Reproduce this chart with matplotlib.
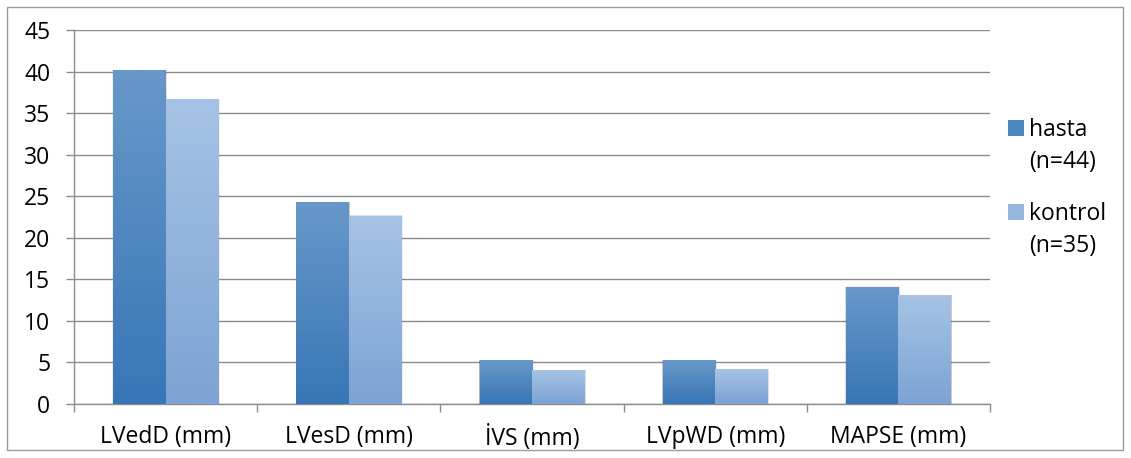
import numpy as np
import matplotlib
matplotlib.use("Agg")
import matplotlib.pyplot as plt
from matplotlib.patches import Rectangle
from matplotlib.colors import LinearSegmentedColormap

categories = ["LVedD (mm)", "LVesD (mm)", "İVS (mm)", "LVpWD (mm)", "MAPSE (mm)"]
hasta = [40.1, 24.2, 5.2, 5.2, 14.0]
kontrol = [36.6, 22.6, 4.0, 4.1, 13.0]
series_names = ["hasta", "kontrol"]
series_n = ["(n=44)", "(n=35)"]
yticks = list(range(0, 50, 5))

plt.rcParams["font.family"] = ["Open Sans", "DejaVu Sans"]
FS = 16.5

fig = plt.figure(figsize=(11.31, 4.58), dpi=100)
ax = fig.add_axes([74 / 1131, 54 / 458, (990 - 74) / 1131, (404 - 30) / 458])

grad_hasta = LinearSegmentedColormap.from_list("h", ["#3776b6", "#6898c9"])
grad_kontrol = LinearSegmentedColormap.from_list("k", ["#7ca3d4", "#a6c3e5"])

w = 1 / 3.5
x = np.arange(len(categories))
ramp = np.linspace(0, 1, 256).reshape(-1, 1)


def gradient_bar(x0, height, cmap):
    # soft drop shadow
    for k, a in [(4, 0.05), (3, 0.07), (2, 0.09), (1, 0.12)]:
        ax.add_patch(Rectangle((x0 - k * 0.0012, 0), w + k * 0.0034, height + k * 0.035,
                               facecolor="#000000", alpha=a, edgecolor="none", zorder=2))
    ax.imshow(ramp, cmap=cmap, origin="lower", aspect="auto",
              extent=(x0, x0 + w, 0, height), zorder=3, interpolation="bilinear")


for i in range(len(categories)):
    gradient_bar(x[i] - w, hasta[i], grad_hasta)
    gradient_bar(x[i], kontrol[i], grad_kontrol)

ax.set_xlim(-0.5, len(categories) - 0.5)
ax.set_ylim(0, 45)
ax.set_yticks(yticks)
ax.grid(axis="y", color="#8c8c8c", linewidth=1)
ax.set_axisbelow(True)

ax.set_xticks(np.arange(-0.5, len(categories)), labels=[])
ax.set_xticks(x, labels=categories, minor=True)
ax.tick_params(axis="x", which="major", length=6, color="#8c8c8c", width=1, direction="out")
ax.tick_params(axis="x", which="minor", length=0, pad=15, labelsize=FS)
ax.tick_params(axis="y", length=6, color="#8c8c8c", width=1, pad=11, labelsize=FS)

for s in ["top", "right"]:
    ax.spines[s].set_visible(False)
for s in ["left", "bottom"]:
    ax.spines[s].set_color("#8c8c8c")
    ax.spines[s].set_linewidth(1)

# legend drawn in figure pixels
colors = ["#4a85c0", "#94b6df"]
for j, (name, n, c) in enumerate(zip(series_names, series_n, colors)):
    yc = 129 + j * 84
    fig.patches.append(Rectangle((1008 / 1131, 1 - (yc + 7) / 458), 16 / 1131, 16 / 458,
                                 transform=fig.transFigure, facecolor=c, edgecolor="none"))
    fig.text(1029 / 1131, 1 - (yc + 7) / 458, name, fontsize=FS, va="baseline", ha="left")
    fig.text(1029 / 1131, 1 - (yc + 39) / 458, n, fontsize=FS, va="baseline", ha="left")

# outer frame
fig.patches.append(Rectangle((7 / 1131, 8 / 458), 1116 / 1131, 443 / 458,
                             transform=fig.transFigure, facecolor="none",
                             edgecolor="#9a9a9a", linewidth=1))

fig.savefig("out.png", dpi=100)
